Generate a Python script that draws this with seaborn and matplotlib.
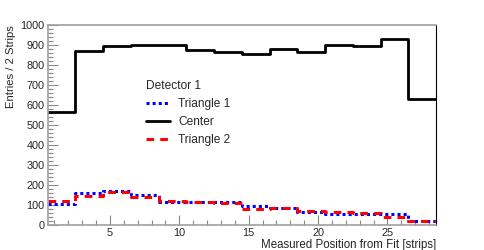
import numpy as np
import matplotlib
matplotlib.use("Agg")
import matplotlib.pyplot as plt
from matplotlib.lines import Line2D
from matplotlib.ticker import MultipleLocator
import seaborn as sns

# histogram bins (2 strips each)
bin_edges = [0.5, 2.5, 4.5, 6.5, 8.5, 10.5, 12.5, 14.5, 16.5, 18.5, 20.5, 22.5, 24.5, 26.5, 28.5]
bin_centers = [1.5, 3.5, 5.5, 7.5, 9.5, 11.5, 13.5, 15.5, 17.5, 19.5, 21.5, 23.5, 25.5, 27.5]

center = [565, 868, 895, 902, 902, 875, 866, 857, 880, 867, 898, 895, 928, 632]
triangle1 = [106, 158, 170, 150, 114, 117, 117, 95, 87, 67, 55, 55, 55, 22]
triangle2 = [122, 146, 163, 142, 122, 117, 108, 80, 83, 72, 67, 58, 42, 22]

sns.set_theme(style="ticks")
plt.rcParams["font.family"] = ["Liberation Sans", "DejaVu Sans"]

fig = plt.figure(figsize=(4.84, 2.5), dpi=100)
ax = fig.add_axes([47.5 / 484, 25 / 250, (436 - 47.5) / 484, 200 / 250])

sns.histplot(x=bin_centers, weights=center, bins=bin_edges, element="step", fill=False,
             color="black", linewidth=2.0, ax=ax)
sns.histplot(x=bin_centers, weights=triangle1, bins=bin_edges, element="step", fill=False,
             color="#0000ff", linewidth=2.2, linestyle=(0, (1, 1)), ax=ax)
sns.histplot(x=bin_centers, weights=triangle2, bins=bin_edges, element="step", fill=False,
             color="#ff0000", linewidth=2.2, linestyle=(0, (2.5, 2)), ax=ax)

ax.set_xlim(0.5, 28.5)
ax.set_ylim(0, 1000)
ax.xaxis.set_major_locator(MultipleLocator(5))
ax.xaxis.set_minor_locator(MultipleLocator(1))
ax.yaxis.set_major_locator(MultipleLocator(100))
ax.yaxis.set_minor_locator(MultipleLocator(20))
ax.tick_params(which="both", direction="in", color="#888888", labelsize=7.8, pad=2,
               top=False, right=False)
ax.tick_params(which="major", length=7, width=0.8)
ax.tick_params(which="minor", length=3.5, width=0.8)

for side in ["left", "bottom", "top"]:
    ax.spines[side].set_color("#a0a0a0")
    ax.spines[side].set_linewidth(1.2)
ax.spines["right"].set_color("black")
ax.spines["right"].set_linewidth(0.8)

ax.set_xlabel("Measured Position from Fit [strips]", fontsize=8.3, loc="right", labelpad=1)
ax.set_ylabel("Entries / 2 Strips", fontsize=8.1, loc="top", labelpad=3)

handles = [
    Line2D([], [], color="#0000ff", linewidth=2.2, linestyle=(0, (1, 1))),
    Line2D([], [], color="black", linewidth=2.0),
    Line2D([], [], color="#ff0000", linewidth=2.2, linestyle=(0, (2.5, 2))),
]
leg = ax.legend(handles, ["Triangle 1", "Center", "Triangle 2"], title="Detector 1",
                loc="upper left", bbox_to_anchor=(0.2535, 0.725), frameon=False,
                fontsize=8.6, title_fontsize=8.6, alignment="left",
                borderpad=0, borderaxespad=0, handlelength=2.0, handletextpad=0.7,
                labelspacing=0.5)

fig.savefig("out.png", dpi=100)
